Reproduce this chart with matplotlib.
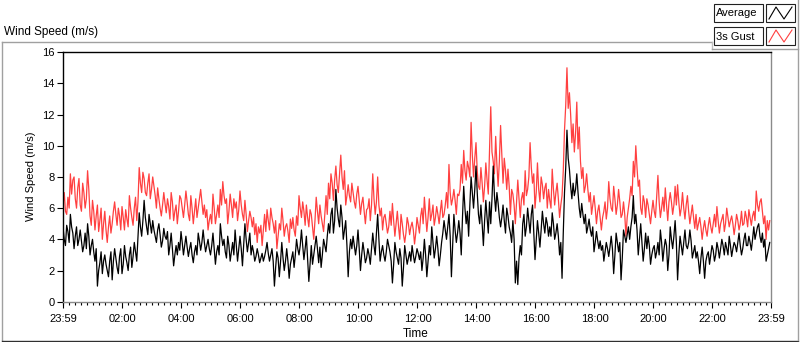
import matplotlib.pyplot as plt
import numpy as np
from matplotlib.lines import Line2D
from matplotlib.patches import Rectangle
from matplotlib.ticker import FixedLocator, MultipleLocator

plt.rcParams['font.family'] = ['Liberation Sans', 'DejaVu Sans']

# readings every 5 minutes from 23:59 the day before (the "a" lists),
# plus the readings 2.5 minutes after each of them (the "b" lists)
step_min = 5

gust_a = [
    6.2, 5.8, 6.7, 8.2, 7.8, 6.6, 7.3, 6.2, 7.6, 6.0,
    8.4, 5.5, 6.5, 4.6, 6.2, 5.2, 4.0, 5.8, 3.8, 5.5,
    5.0, 6.4, 4.9, 5.5, 6.1, 4.6, 5.3, 6.8, 5.4, 6.0,
    5.2, 8.6, 7.0, 7.9, 6.8, 8.2, 7.2, 7.4, 6.0, 6.6,
    5.5, 7.0, 5.7, 6.1, 7.0, 5.2, 6.2, 5.8, 6.6, 5.4,
    7.1, 5.6, 6.8, 5.0, 6.6, 6.0, 7.2, 5.6, 5.4, 4.6,
    5.6, 6.9, 5.0, 6.2, 7.2, 7.7, 6.3, 5.0, 6.9, 5.4,
    6.0, 5.2, 7.1, 5.6, 6.5, 4.5, 5.8, 4.8, 4.3, 3.8,
    4.4, 3.6, 5.6, 5.9, 4.6, 5.4, 4.4, 3.4, 5.0, 6.0,
    4.2, 5.0, 3.8, 4.7, 4.6, 5.5, 6.8, 5.4, 5.8, 6.2,
    4.8, 5.6, 4.0, 6.7, 5.0, 5.5, 4.5, 6.8, 7.6, 8.2,
    6.5, 8.7, 7.0, 9.4, 7.2, 6.2, 7.5, 6.4,
    7.0, 6.0, 7.4, 5.6, 6.7, 5.0, 6.0, 5.2, 8.2, 5.6,
    8.0, 5.5, 4.6, 5.6, 4.4, 5.8, 6.3, 4.2, 5.8, 4.0,
    5.0, 3.8, 5.4, 4.3, 5.1, 3.7, 5.4, 4.4, 6.0, 6.7,
    4.5, 6.6, 5.6, 4.9, 6.1, 5.0, 6.5, 5.6, 7.0, 8.8,
    6.2, 7.2, 5.6, 6.8, 8.8, 9.7, 7.8, 8.6, 11.5, 8.0,
    10.2, 7.4, 8.6, 6.4, 8.9, 6.9,
    12.5, 9.0, 10.6, 7.4, 11.3, 7.6, 8.4, 8.5, 5.6, 6.9,
    5.0, 7.8, 5.4, 7.0, 8.4, 7.2, 10.2, 7.6, 6.0, 8.9,
    6.4, 7.5, 7.3, 6.0, 6.5, 8.5, 6.2, 7.6, 5.4, 6.8,
    11.0, 15.0, 13.4, 10.2, 9.6, 12.8, 11.2, 7.9, 7.0, 8.2,
    6.4, 5.6, 6.8, 5.0, 6.2, 4.6, 5.8, 5.3, 7.7, 6.0,
    7.4, 5.6, 7.2, 5.4, 6.4, 4.2, 6.0,
    7.4, 9.0, 10.0, 7.4, 6.0, 6.8, 5.4, 6.2, 5.0, 6.5,
    5.4, 8.1, 5.4, 6.7, 7.3, 5.2, 7.0, 5.6, 7.4, 7.5,
    5.5, 7.0, 5.3, 6.8, 5.0, 6.2, 4.7, 4.6, 5.4, 4.0,
    5.2, 4.2, 5.4, 4.4, 5.6, 6.1, 4.4, 5.3, 4.5, 6.0,
    4.8, 5.5, 4.3, 5.6, 4.6, 5.8, 5.0, 5.4, 5.9, 4.9,
    5.8, 7.1, 5.8, 6.6, 5.0, 4.0, 4.6,
]

gust_b = [
    7.0, 5.6, 6.0, 6.9, 8.0, 6.0, 7.9, 5.8, 7.0, 6.6,
    7.2, 4.9, 5.8, 5.5, 4.5, 6.0, 5.0, 4.6, 4.8, 4.4,
    5.8, 5.6, 6.0, 4.6, 5.4, 5.9, 4.8, 6.0, 4.9, 6.7,
    6.4, 7.6, 8.3, 7.0, 7.6, 6.6, 8.0, 6.8, 7.3, 6.0,
    6.2, 6.3, 6.6, 5.3, 6.4, 5.8, 5.0, 6.8, 6.0, 6.2,
    6.4, 5.2, 6.0, 5.8, 5.4, 6.6, 6.4, 6.2, 5.9, 5.2,
    5.0, 6.0, 5.6, 5.4, 6.2, 6.8, 6.6, 5.8, 6.2, 6.6,
    6.4, 5.9, 6.2, 5.2, 5.6, 5.2, 5.4, 5.4, 5.0, 4.8,
    4.9, 4.6, 4.5, 5.2, 6.0, 5.0, 5.2, 4.2, 4.6, 5.2,
    4.8, 4.5, 5.3, 5.4, 4.2, 4.9, 6.0, 6.4, 4.9, 5.4,
    5.9, 4.8, 5.2, 5.8, 6.2, 5.0, 5.6, 5.6, 6.6, 7.6,
    7.8, 7.5, 8.2, 8.0, 8.4, 6.8, 6.8, 7.6,
    6.4, 6.9, 6.5, 6.3, 5.8, 5.9, 6.6, 6.2, 6.6, 6.4,
    6.2, 6.0, 5.4, 5.0, 4.8, 4.9, 5.2, 5.0, 4.8, 5.6,
    4.3, 4.4, 5.0, 4.8, 4.6, 4.4, 4.9, 5.5, 5.0, 5.6,
    5.4, 5.2, 6.2, 5.4, 5.6, 5.8, 5.4, 6.2, 6.0, 7.0,
    6.6, 6.5, 6.9, 7.2, 7.6, 8.4, 9.0, 8.0, 9.4, 9.2,
    8.4, 7.2, 7.6, 7.4, 7.8, 9.8,
    9.6, 8.2, 8.8, 9.0, 9.4, 9.2, 7.2, 7.4, 7.2, 6.2,
    6.4, 6.6, 6.6, 6.2, 6.8, 8.0, 8.6, 8.2, 7.0, 7.2,
    8.0, 6.6, 7.6, 7.2, 6.0, 7.2, 7.0, 6.6, 6.2, 8.4,
    12.6, 12.4, 12.0, 11.4, 10.8, 9.8, 9.0, 8.6, 7.4, 7.2,
    7.0, 6.2, 6.0, 5.8, 5.4, 5.4, 6.4, 6.0, 6.6, 5.8,
    6.6, 6.2, 6.4, 5.6, 5.6, 5.4, 6.6,
    6.8, 8.0, 8.6, 7.8, 5.6, 6.4, 6.6, 5.6, 5.8, 5.8,
    6.8, 6.4, 6.0, 5.8, 6.2, 6.4, 6.4, 6.2, 6.2, 6.4,
    6.0, 6.0, 6.2, 5.8, 5.6, 5.4, 5.6, 5.0, 4.8, 4.7,
    4.6, 4.9, 4.8, 5.0, 4.8, 5.2, 5.0, 5.6, 5.0, 5.4,
    5.2, 5.0, 4.9, 5.2, 5.0, 4.9, 5.8, 4.8, 5.4, 5.5,
    5.2, 6.2, 6.4, 5.8, 5.5, 5.2, 5.2,
]

average_a = [
    4.8, 3.6, 4.5, 5.6, 4.4, 4.2, 3.6, 4.6, 3.2, 4.4,
    5.0, 3.0, 4.0, 2.6, 1.0, 2.5, 1.8, 3.0, 2.0, 2.6,
    1.4, 3.4, 2.2, 2.9, 1.8, 3.6, 2.5, 3.0, 2.2, 3.8,
    2.6, 5.7, 4.2, 6.5, 4.8, 5.6, 4.4, 4.6, 3.8, 5.0,
    3.5, 4.7, 4.0, 3.0, 4.4, 2.3, 3.6, 3.8, 4.5, 3.0,
    4.2, 2.9, 3.8, 2.5, 3.6, 4.4, 3.3, 4.6, 3.2, 4.0,
    3.0, 4.4, 2.4, 3.6, 5.0, 3.6, 3.2, 4.2, 2.6, 3.8,
    4.6, 2.6, 4.2, 2.3, 5.0, 3.2, 4.4, 3.6, 2.6, 3.4,
    2.5, 3.1, 2.9, 3.8, 2.6, 3.4, 1.0, 3.2, 1.6, 3.8,
    2.0, 3.4, 1.5, 2.8, 2.2, 4.0, 3.0, 4.6, 2.7, 4.2,
    1.3, 3.6, 3.0, 4.2, 2.5, 2.2, 4.0, 3.2, 5.0, 5.6,
    4.4, 7.2, 5.3, 6.2, 4.0, 5.2, 1.6, 4.0,
    4.2, 3.0, 4.6, 2.0, 3.8, 2.5, 3.4, 2.4, 4.4, 3.0,
    5.6, 2.6, 3.6, 2.6, 4.0, 3.2, 1.2, 3.8, 2.8, 3.4,
    1.0, 3.6, 2.4, 3.2, 3.6, 2.5, 3.4, 2.7, 2.0, 4.0,
    1.6, 3.6, 4.8, 2.8, 4.2, 2.3, 3.8, 5.2, 4.0, 5.6,
    1.6, 5.6, 3.8, 5.2, 3.0, 7.4, 5.0, 4.2, 8.0, 6.0,
    8.7, 5.6, 6.2, 3.6, 6.5, 4.4,
    5.0, 8.7, 5.8, 6.3, 4.8, 6.2, 4.4, 5.5, 4.4, 5.2,
    1.2, 1.1, 3.6, 5.0, 4.2, 6.0, 4.4, 6.2, 2.7, 5.2,
    3.5, 5.8, 4.4, 5.0, 4.8, 5.7, 4.0, 5.0, 3.0, 1.5,
    7.0, 11.0, 8.5, 6.6, 6.8, 8.2, 6.0, 6.3, 5.0, 4.4,
    5.3, 4.2, 3.2, 4.5, 3.4, 3.3, 2.6, 3.8, 2.9, 4.2,
    1.8, 4.4, 3.2, 1.4, 4.6, 3.8, 4.8,
    4.8, 6.8, 5.6, 3.0, 5.0, 2.6, 4.4, 4.2, 2.4, 3.4,
    2.8, 3.8, 4.6, 2.6, 4.0, 2.0, 4.8, 3.4, 5.2, 1.4,
    4.2, 3.0, 4.6, 3.4, 4.6, 2.8, 3.6, 3.2, 1.8, 3.5,
    1.5, 3.0, 2.4, 3.6, 2.6, 3.8, 2.8, 4.0, 3.0, 3.4,
    4.2, 2.9, 3.8, 3.2, 4.4, 3.0, 4.0, 3.6, 4.2, 3.3,
    4.8, 4.4, 5.0, 3.8, 3.5, 2.6, 3.4,
]

average_b = [
    4.0, 4.9, 3.8, 4.8, 3.4, 4.8, 4.0, 3.9, 3.6, 3.4,
    4.2, 3.6, 3.2, 3.4, 2.0, 3.2, 2.6, 2.4, 1.6, 3.2,
    2.6, 2.8, 1.8, 3.4, 2.4, 2.9, 2.0, 3.5, 2.9, 3.2,
    4.2, 4.8, 5.2, 5.4, 4.3, 5.0, 5.2, 4.2, 4.6, 4.3,
    3.9, 4.2, 4.5, 3.6, 3.4, 3.0, 3.0, 3.3, 3.8, 3.6,
    3.5, 3.4, 3.0, 3.2, 3.0, 3.9, 3.8, 3.8, 3.6, 3.4,
    3.6, 3.4, 3.2, 3.0, 4.2, 4.0, 2.8, 3.6, 3.2, 3.0,
    3.6, 3.4, 3.4, 3.6, 4.0, 3.8, 3.0, 3.2, 2.9, 3.0,
    2.8, 2.6, 3.3, 3.1, 3.0, 2.6, 2.2, 2.8, 2.6, 2.8,
    2.6, 2.6, 2.4, 3.2, 3.0, 3.4, 3.6, 3.6, 3.4, 2.8,
    2.4, 2.4, 3.6, 3.4, 3.5, 3.0, 3.6, 4.2, 4.4, 6.0,
    5.2, 6.0, 4.8, 5.4, 4.6, 3.6, 3.2, 3.4,
    3.6, 3.6, 3.4, 3.0, 3.2, 2.8, 3.0, 3.4, 3.6, 4.4,
    4.0, 3.2, 3.0, 3.2, 3.6, 2.6, 2.4, 3.2, 2.4, 2.8,
    2.2, 3.0, 2.8, 2.6, 3.0, 2.9, 3.1, 3.2, 2.8, 3.0,
    2.6, 3.0, 3.8, 3.4, 3.4, 3.0, 4.4, 4.6, 4.8, 4.2,
    3.6, 4.6, 4.4, 4.4, 5.4, 6.0, 5.8, 6.2, 7.0, 7.2,
    7.0, 5.0, 5.0, 5.2, 5.4, 6.4,
    6.6, 6.8, 7.0, 5.4, 5.4, 5.2, 6.0, 4.8, 3.8, 4.0,
    2.6, 2.8, 3.0, 5.6, 4.8, 5.2, 5.6, 4.4, 4.0, 4.4,
    4.6, 5.0, 5.4, 4.2, 4.2, 5.0, 4.4, 4.2, 3.8, 4.4,
    8.6, 9.2, 7.4, 7.6, 7.2, 7.0, 5.4, 5.6, 5.6, 4.8,
    4.6, 4.8, 3.8, 3.9, 3.9, 3.6, 3.2, 3.4, 3.5, 3.4,
    3.0, 3.8, 3.8, 2.8, 4.2, 4.3, 4.0,
    5.4, 5.0, 4.6, 4.0, 3.8, 3.4, 3.4, 3.6, 3.0, 3.6,
    3.2, 3.0, 3.8, 3.4, 3.6, 3.0, 4.0, 4.2, 3.8, 3.0,
    3.6, 3.8, 3.6, 3.8, 3.9, 3.2, 2.8, 2.6, 2.8, 2.6,
    2.6, 3.2, 3.0, 3.3, 3.0, 3.4, 3.4, 3.6, 3.8, 3.0,
    3.6, 3.4, 3.6, 3.8, 3.6, 3.4, 4.4, 3.6, 3.8, 4.0,
    4.0, 4.8, 4.2, 4.4, 4.0, 3.0, 3.8,
]

xtick_min = [-1, 120, 240, 360, 480, 600, 720, 840, 960, 1080, 1200, 1320, 1439]
xtick_labels = ['23:59', '02:00', '04:00', '06:00', '08:00', '10:00', '12:00',
                '14:00', '16:00', '18:00', '20:00', '22:00', '23:59']
yticks = [0, 2, 4, 6, 8, 10, 12, 14, 16]

# interleave the two sets of readings in time order
t_a = np.arange(len(gust_a)) * step_min - 1
t = np.column_stack([t_a, t_a + step_min / 2]).ravel()
gust = np.column_stack([gust_a, gust_b]).ravel()
average = np.column_stack([average_a, average_b]).ravel()

W, H = 800, 342
fig = plt.figure(figsize=(W / 100, H / 100), dpi=100)


def fx(px):
    return px / W


def fy(py):
    return 1 - py / H


ax = fig.add_axes([fx(63), fy(301.7), fx(771) - fx(63), fy(52.2) - fy(301.7)])
ax.plot(t, gust, color='#ff4040', lw=0.9)
ax.plot(t, average, color='black', lw=0.9)
ax.set_xlim(-1, 1439)
ax.set_ylim(0, 16)

ax.xaxis.set_major_locator(FixedLocator(xtick_min))
ax.set_xticklabels(xtick_labels)
ax.xaxis.set_minor_locator(MultipleLocator(12))
ax.set_yticks(yticks)
ax.tick_params(axis='both', which='major', labelsize=8, length=4, width=0.8,
               color='black')
ax.tick_params(axis='x', which='major', pad=4.5)
ax.tick_params(axis='y', which='major', pad=2)
ax.tick_params(axis='x', which='minor', length=2.5, width=0.8, color='black')

ax.spines['left'].set_color('black')
ax.spines['top'].set_color('black')
ax.spines['right'].set_color('#8a8a8a')
ax.spines['bottom'].set_color('#8a8a8a')
for s in ax.spines.values():
    s.set_linewidth(1.0)

fig.text(fx(31), fy(176), 'Wind Speed (m/s)', rotation=90, ha='center',
         va='center', fontsize=8)
fig.text(fx(416), fy(334), 'Time', ha='center', va='center', fontsize=8.5)
fig.text(fx(4), fy(32), 'Wind Speed (m/s)', ha='left', va='center',
         fontsize=8.5)


def fline(xs, ys, color, lw=1.0):
    fig.add_artist(Line2D([fx(x) for x in xs], [fy(y) for y in ys],
                          transform=fig.transFigure, color=color, lw=lw))


# outer panel frame
fline([2, 712], [42, 42], '#a0a0a0')
fline([2, 2], [42, 340], '#a0a0a0')
fline([2, 798], [340.5, 340.5], '#303030')
fline([798, 798], [0, 340], '#a0a0a0')
# legend panel edge
fline([712, 712], [42, 49], '#c0c0c0')
fline([712, 798], [49, 49], '#a0a0a0')

# legend cells
legend_rows = [('Average', 'black', 4), ('3s Gust', '#ff4040', 27)]
for name, col, top in legend_rows:
    fig.add_artist(Rectangle((fx(714), fy(top + 18)), fx(763) - fx(714),
                             fy(top) - fy(top + 18), transform=fig.transFigure,
                             fill=False, edgecolor='#202020', lw=0.8))
    fig.add_artist(Rectangle((fx(766), fy(top + 18)), fx(795) - fx(766),
                             fy(top) - fy(top + 18), transform=fig.transFigure,
                             fill=False, edgecolor='#202020', lw=0.8))
    fig.text(fx(716), fy(top + 9.5), name, ha='left', va='center', fontsize=8)
    fline([769, 776, 784, 792], [top + 15, top + 3, top + 15, top + 3], col,
          lw=0.8)

fig.savefig('out.png', dpi=100)
